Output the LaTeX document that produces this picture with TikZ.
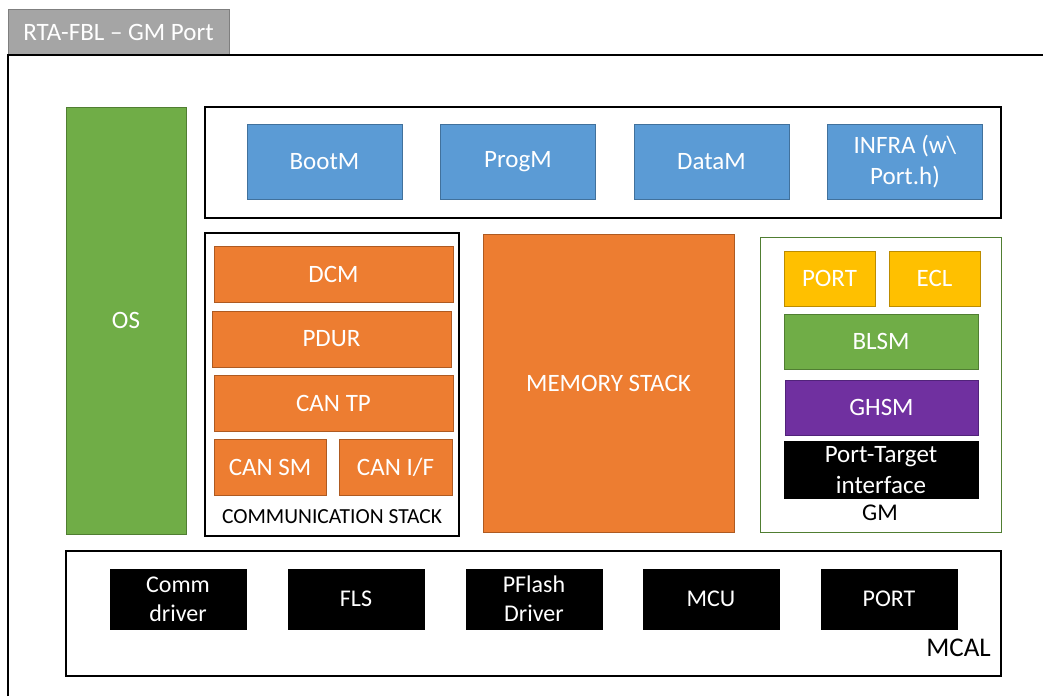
\documentclass[tikz,border=0pt]{standalone}
\usepackage{fontspec}
\setmainfont{Carlito}
\usetikzlibrary{positioning}

\definecolor{tabgray}{HTML}{A5A5A5}
\definecolor{tabedge}{HTML}{7F7F7F}
\definecolor{swblue}{HTML}{5B9BD5}
\definecolor{swblueedge}{HTML}{41719C}
\definecolor{sworange}{HTML}{ED7D31}
\definecolor{sworangeedge}{HTML}{AE5A21}
\definecolor{swgreen}{HTML}{70AD47}
\definecolor{swgreenedge}{HTML}{507E32}
\definecolor{swyellow}{HTML}{FFC000}
\definecolor{swyellowedge}{HTML}{BC8C00}
\definecolor{swpurple}{HTML}{7030A0}
\definecolor{swpurpleedge}{HTML}{51237A}

\tikzset{
  blk/.style={draw, line width=1pt, text=white, align=center, inner sep=0pt,
    font=\fontsize{25}{31}\selectfont},
  drv/.style={blk, fill=black, draw=black, minimum width=136, minimum height=60,
    font=\fontsize{24}{29}\selectfont},
  frame/.style={draw=black, line width=1.2pt, fill=white, inner sep=0pt},
  lbl/.style={inner sep=0pt, font=\fontsize{21.5}{24}\selectfont}
}

\begin{document}
\begin{tikzpicture}[x=1pt,y=-1pt]
   \useasboundingbox (0,0) rectangle (1043,696);
   \fill[white] (0,0) rectangle (1043,696);
   % tab and outer frame
   \node[blk, fill=tabgray, draw=tabedge, minimum width=221, minimum height=46,
     font=\fontsize{25}{28}\selectfont] (tab) at (118.5,32) {RTA-FBL -- GM Port};
   \draw[line width=1.2pt] (8,696) -- (8,55) -- (1043,55);
   % OS
   \node[blk, fill=swgreen, draw=swgreenedge, minimum width=120, minimum height=427] (os) at (126,320.5) {OS};
   % application layer
   \node[frame, minimum width=796, minimum height=111] (appbox) at (603,162.5) {};
   \node[blk, fill=swblue, draw=swblueedge, minimum width=155, minimum height=75] (bootm) at (324.5,161.5) {BootM};
   \node[blk, fill=swblue, draw=swblueedge, minimum width=155, minimum height=75] (progm) at (518,161.5) {ProgM};
   \node[blk, fill=swblue, draw=swblueedge, minimum width=155, minimum height=75] (datam) at (711.5,161.5) {DataM};
   \node[blk, fill=swblue, draw=swblueedge, minimum width=155, minimum height=75] (infra) at (905,162) {INFRA (w\textbackslash\\Port.h)};
   % communication stack
   \node[frame, minimum width=254, minimum height=303] (commbox) at (332,384.5) {};
   \node[blk, fill=sworange, draw=sworangeedge, minimum width=239, minimum height=56] (dcm) at (333.5,274) {DCM};
   \node[blk, fill=sworange, draw=sworangeedge, minimum width=239, minimum height=56] (pdur) at (331.5,339) {PDUR};
   \node[blk, fill=sworange, draw=sworangeedge, minimum width=239, minimum height=56] (cantp) at (333.5,403) {CAN TP};
   \node[blk, fill=sworange, draw=sworangeedge, minimum width=112, minimum height=56] (cansm) at (270,467) {CAN SM};
   \node[blk, fill=sworange, draw=sworangeedge, minimum width=113, minimum height=56] (canif) at (395.5,467) {CAN I/F};
   \node[lbl] (commlbl) at (332,517) {COMMUNICATION STACK};
   % memory stack
   \node[blk, fill=sworange, draw=sworangeedge, minimum width=251, minimum height=298] (memstack) at (608.5,383) {MEMORY STACK};
   % GM
   \node[draw=swgreenedge, line width=1pt, fill=white, inner sep=0pt, minimum width=241, minimum height=295] (gmbox) at (880.5,384.5) {};
   \node[blk, fill=swyellow, draw=swyellowedge, minimum width=91, minimum height=55] (port) at (829.5,278.5) {PORT};
   \node[blk, fill=swyellow, draw=swyellowedge, minimum width=91, minimum height=55] (ecl) at (934.5,278.5) {ECL};
   \node[blk, fill=swgreen, draw=swgreenedge, minimum width=194, minimum height=55] (blsm) at (881,341.5) {BLSM};
   \node[blk, fill=swpurple, draw=swpurpleedge, minimum width=193, minimum height=55] (ghsm) at (881.5,407.5) {GHSM};
   \node[blk, fill=black, draw=black, minimum width=194, minimum height=57] (pti) at (881,470) {Port-Target\\interface};
   \node[lbl, font=\fontsize{24}{26}\selectfont] (gmlbl) at (880,513) {GM};
   % MCAL
   \node[frame, minimum width=935, minimum height=125] (mcal) at (533.5,613.5) {};
   \node[drv] (commdrv) at (178,599) {Comm\\driver};
   \node[drv] (fls) at (356,599) {FLS};
   \node[drv] (pflash) at (534,599) {PFlash\\Driver};
   \node[drv] (mcu) at (711,599) {MCU};
   \node[drv] (mcalport) at (889,599) {PORT};
   \node[lbl, anchor=east, font=\fontsize{27}{28}\selectfont] (mcallbl) at (991,648) {MCAL};
\end{tikzpicture}
\end{document}
